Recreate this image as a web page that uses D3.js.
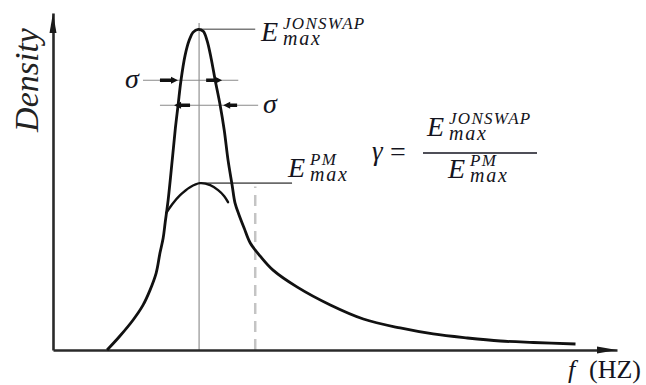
<!DOCTYPE html>
<html>
<head>
<meta charset="utf-8">
<script src="https://cdn.jsdelivr.net/npm/d3@7"></script>
<style>
  body { margin: 0; background: #fff; }
  svg { display: block; }
  .math { font-family: "Liberation Serif", "DejaVu Serif", serif; font-style: italic; fill: #141420; }
</style>
</head>
<body>
<svg width="646" height="385"></svg>
<script>
// spectrum shapes, frequency f (Hz, arbitrary) vs density E (PM peak = 1)
const jonswapF = [0.185, 0.229, 0.274, 0.308, 0.332, 0.353, 0.366, 0.377, 0.384, 0.394, 0.408, 0.418, 0.428, 0.438, 0.452, 0.466, 0.479, 0.497, 0.514, 0.527, 0.541, 0.555, 0.572, 0.586, 0.599, 0.613, 0.623, 0.637, 0.654, 0.675, 0.709, 0.753, 0.836, 0.949, 1.062, 1.188, 1.301, 1.418, 1.531, 1.644, 1.788];
const jonswapE = [0, 0.084, 0.180, 0.269, 0.359, 0.461, 0.581, 0.671, 0.766, 0.898, 1.138, 1.317, 1.467, 1.617, 1.766, 1.856, 1.904, 1.922, 1.910, 1.856, 1.749, 1.617, 1.467, 1.317, 1.138, 0.988, 0.880, 0.808, 0.731, 0.641, 0.563, 0.479, 0.377, 0.270, 0.186, 0.132, 0.096, 0.072, 0.054, 0.045, 0.036];
const pmF = [0.387, 0.408, 0.435, 0.469, 0.503, 0.538, 0.565, 0.586, 0.599];
const pmE = [0.820, 0.874, 0.928, 0.976, 1.000, 0.988, 0.958, 0.922, 0.886];

const peakF = 0.5;
const jonswapMax = 1.922;
const pmMax = 1.0;
const dashedF = 0.692;
// sigma width markers: [left f, right f, level E]
const sigmaUpper = [0.308, 0.634, 1.617];
const sigmaLower = [0.366, 0.702, 1.467];

var svg = d3.select("svg");

var x = d3.scaleLinear().domain([0, 1.93]).range([53, 617]);
var y = d3.scaleLinear().domain([0, 2.02]).range([350, 13]);

var line = d3.line()
    .x(d => x(d[0]))
    .y(d => y(d[1]))
    .curve(d3.curveCatmullRom.alpha(0.5));

// guide lines
svg.append("line")
    .attr("x1", x(peakF)).attr("x2", x(peakF))
    .attr("y1", y(0)).attr("y2", y(1.96))
    .attr("stroke", "#a8a8a8").attr("stroke-width", 1.5);

svg.append("line")
    .attr("x1", x(peakF)).attr("x2", x(dashedF))
    .attr("y1", y(jonswapMax)).attr("y2", y(jonswapMax))
    .attr("stroke", "#7a7a7a").attr("stroke-width", 1.5);

svg.append("line")
    .attr("x1", x(peakF)).attr("x2", x(0.818))
    .attr("y1", y(pmMax)).attr("y2", y(pmMax))
    .attr("stroke", "#6a6a6a").attr("stroke-width", 1.8);

svg.append("line")
    .attr("x1", x(dashedF)).attr("x2", x(dashedF))
    .attr("y1", y(0)).attr("y2", y(0.98))
    .attr("stroke", "#c4c4c4").attr("stroke-width", 2.5)
    .attr("stroke-dasharray", "11,7");

[sigmaUpper, sigmaLower].forEach(function(s) {
  svg.append("line")
      .attr("x1", x(s[0])).attr("x2", x(s[1]))
      .attr("y1", y(s[2])).attr("y2", y(s[2]))
      .attr("stroke", "#8a8a8a").attr("stroke-width", 1.2);
});

// axes with no ticks, arrows added by hand
svg.append("g")
    .attr("transform", "translate(0," + y(0) + ")")
    .call(d3.axisBottom(x).tickValues([]).tickSizeOuter(0));
svg.append("g")
    .attr("transform", "translate(" + x(0) + ",0)")
    .call(d3.axisLeft(y).tickValues([]).tickSizeOuter(0));
svg.selectAll(".domain").attr("stroke", "#2a2a2a").attr("stroke-width", 2.6);

svg.append("path")
    .attr("d", "M" + x(1.93) + "," + y(0) + " l-20,-3.5 l0,7 z")
    .attr("fill", "#1a1a1a");
svg.append("path")
    .attr("d", "M" + x(0) + "," + y(2.02) + " l-3.5,20 l7,0 z")
    .attr("fill", "#1a1a1a");

// spectra
svg.append("path")
    .datum(d3.zip(jonswapF, jonswapE))
    .attr("d", line)
    .attr("fill", "none").attr("stroke", "#111").attr("stroke-width", 2.8)
    .attr("stroke-linejoin", "round");

svg.append("path")
    .datum(d3.zip(pmF, pmE))
    .attr("d", line)
    .attr("fill", "none").attr("stroke", "#111").attr("stroke-width", 2.4)
    .attr("stroke-linecap", "round");

// sigma arrow marks sitting on the flanks
function mark(f0, f1, e, dir) {
  var a = x(f0), b = x(f1), yy = y(e);
  svg.append("line")
      .attr("x1", a).attr("x2", b).attr("y1", yy).attr("y2", yy)
      .attr("stroke", "#111").attr("stroke-width", 3.5);
  var tip = dir > 0 ? b : a;
  svg.append("path")
      .attr("d", "M" + (tip + 4 * dir) + "," + yy + " l" + (-7 * dir) + ",-3.5 l0,7 z")
      .attr("fill", "#111");
}
mark(0.366, 0.414, sigmaUpper[2], 1);
mark(0.524, 0.565, sigmaUpper[2], 1);
mark(0.428, 0.469, sigmaLower[2], -1);
mark(0.596, 0.630, sigmaLower[2], -1);

// labels
function txt(xp, yp, s, size, italic) {
  return svg.append("text")
      .attr("class", "math")
      .attr("x", xp).attr("y", yp)
      .style("font-size", size + "px")
      .style("font-style", italic === false ? "normal" : "italic")
      .text(s);
}

// E with stacked superscript and "max" subscript, kept in one text element
function emax(xp, yp, sup) {
  var t = svg.append("text").attr("class", "math");
  t.append("tspan").attr("x", xp).attr("y", yp)
      .style("font-size", "28px").text("E");
  t.append("tspan").attr("x", xp + 22).attr("y", yp - 12)
      .style("font-size", "17px").attr("letter-spacing", "1.3px").text(sup);
  t.append("tspan").attr("x", xp + 22).attr("y", yp + 4)
      .style("font-size", "20px").attr("letter-spacing", "1.8px").text("max");
}

emax(261, 41, "JONSWAP");
emax(288, 177, "PM");

txt(125, 88, "\u03c3", 28);
txt(263, 113, "\u03c3", 28);

// gamma = ratio
txt(372, 160, "\u03b3", 27);
txt(390, 161, "=", 28, false);
svg.append("line")
    .attr("x1", 423).attr("x2", 537)
    .attr("y1", 153).attr("y2", 153)
    .attr("stroke", "#141420").attr("stroke-width", 1.6);
emax(427, 136, "JONSWAP");
emax(448, 178, "PM");

// axis titles
svg.append("text")
    .attr("class", "math")
    .attr("transform", "translate(38,80) rotate(-90)")
    .attr("text-anchor", "middle")
    .style("font-size", "34px")
    .style("fill", "#222")
    .text("Density");

var fl = svg.append("text")
    .attr("class", "math")
    .attr("y", 378)
    .style("font-size", "26px");
fl.append("tspan").attr("x", 568).text("f");
fl.append("tspan").attr("x", 589).style("font-style", "normal").text("(HZ)");
</script>
</body>
</html>
